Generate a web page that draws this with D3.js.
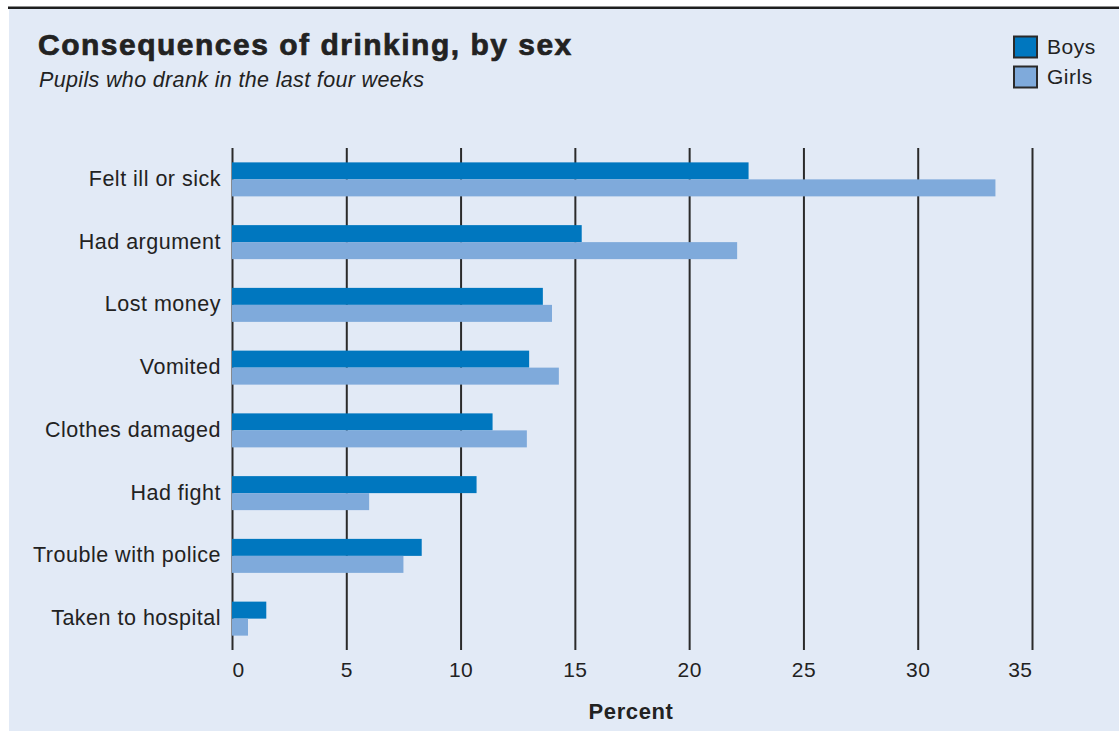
<!DOCTYPE html>
<html>
<head>
<meta charset="utf-8">
<script src="https://cdn.jsdelivr.net/npm/d3@7"></script>
<style>
  html, body { margin: 0; padding: 0; background: #ffffff; }
  svg { display: block; }
  text { font-family: "Liberation Sans", Arial, Helvetica, sans-serif; fill: #222; }
</style>
</head>
<body>
<svg id="chart" width="1119" height="731"></svg>
<script>
// Share of pupils (who drank in the last four weeks) reporting each consequence, percent
const categories = [
  "Felt ill or sick",
  "Had argument",
  "Lost money",
  "Vomited",
  "Clothes damaged",
  "Had fight",
  "Trouble with police",
  "Taken to hospital"
];
const seriesNames = ["Boys", "Girls"];
const boysValues  = [22.6, 15.3, 13.6, 13.0, 11.4, 10.7, 8.3, 1.5];
const girlsValues = [33.4, 22.1, 14.0, 14.3, 12.9, 6.0, 7.5, 0.7];
const xTicks = [0, 5, 10, 15, 20, 25, 30, 35];

const colors = { Boys: "#0077bf", Girls: "#7faadb" };

const W = 1119, H = 731;
const plot = { left: 232, right: 1032, top: 148, bottom: 650 };

const svg = d3.select("#chart");

// panel background and the rule along its top edge
svg.append("rect")
  .attr("x", 9).attr("y", 9).attr("width", W - 9).attr("height", H - 9)
  .attr("fill", "#e2eaf6");
svg.append("rect")
  .attr("x", 8).attr("y", 6.5).attr("width", W - 8).attr("height", 2.5)
  .attr("fill", "#1e1e1e");

// heading
svg.append("text")
  .attr("x", 38).attr("y", 55)
  .style("font-size", "30px").style("font-weight", "bold")
  .style("letter-spacing", "1.5px")
  .style("stroke", "#222").style("stroke-width", "0.7px")
  .text("Consequences of drinking, by sex");
svg.append("text")
  .attr("x", 39).attr("y", 87)
  .style("font-size", "21.5px").style("font-style", "italic")
  .style("letter-spacing", "0.35px")
  .text("Pupils who drank in the last four weeks");

// scales
const x = d3.scaleLinear().domain([0, 35]).range([plot.left, plot.right]);
const y0 = d3.scaleBand().domain(categories).range([plot.top, plot.bottom]);
const y1 = d3.scaleBand().domain(seriesNames)
  .range([y0.bandwidth() / 2 - 17, y0.bandwidth() / 2 + 17]);

// vertical gridlines with tick labels underneath
const xAxis = d3.axisBottom(x)
  .tickValues(xTicks)
  .tickSize(plot.bottom - plot.top)
  .tickFormat(d3.format("d"));
const gx = svg.append("g")
  .attr("transform", `translate(0,${plot.top})`)
  .call(xAxis);
gx.select(".domain").remove();
gx.selectAll(".tick line").attr("stroke", "#2a2a2a").attr("stroke-width", 2);
gx.selectAll(".tick text")
  .attr("y", plot.bottom - plot.top + 12)
  .attr("fill", "#2a2a2a")
  .style("font-size", "21px")
  .style("letter-spacing", "0.5px")
  .attr("text-anchor", (d, i, n) => i === 0 ? "start" : (i === n.length - 1 ? "end" : "middle"));

svg.append("text")
  .attr("x", 631).attr("y", 719)
  .attr("text-anchor", "middle")
  .style("font-size", "22px").style("font-weight", "bold")
  .style("letter-spacing", "0.6px")
  .text("Percent");

// category labels
svg.append("g").selectAll("text")
  .data(categories)
  .join("text")
  .attr("x", plot.left - 11)
  .attr("y", d => y0(d) + y0.bandwidth() / 2)
  .attr("dy", "0.3em")
  .attr("text-anchor", "end")
  .style("font-size", "21.5px")
  .style("letter-spacing", "0.5px")
  .text(d => d);

// bars
const rows = categories.map((c, i) => ({
  category: c,
  values: [
    { series: "Boys", value: boysValues[i] },
    { series: "Girls", value: girlsValues[i] }
  ]
}));
svg.append("g").selectAll("g")
  .data(rows)
  .join("g")
  .attr("transform", d => `translate(0,${y0(d.category)})`)
  .selectAll("rect")
  .data(d => d.values)
  .join("rect")
  .attr("x", x(0))
  .attr("y", d => y1(d.series))
  .attr("width", d => x(d.value) - x(0))
  .attr("height", y1.bandwidth())
  .attr("fill", d => colors[d.series]);

// legend
const legend = svg.append("g");
seriesNames.forEach((s, i) => {
  legend.append("rect")
    .attr("x", 1014).attr("y", 36.5 + i * 30)
    .attr("width", 23).attr("height", 21)
    .attr("fill", colors[s])
    .attr("stroke", "#2a2a2a").attr("stroke-width", 2);
  legend.append("text")
    .attr("x", 1047).attr("y", 54 + i * 30)
    .style("font-size", "21px")
    .style("letter-spacing", "0.5px")
    .text(s);
});
</script>
</body>
</html>
